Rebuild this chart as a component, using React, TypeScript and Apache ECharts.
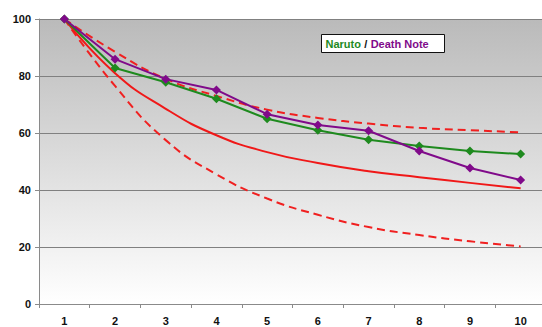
import React, { useEffect, useRef } from "react";
import * as echarts from "echarts";

const categories = ["1", "2", "3", "4", "5", "6", "7", "8", "9", "10"];
const naruto = [100, 82.8, 77.8, 72, 65, 61, 57.6, 55.4, 53.7, 52.6];
const deathNote = [100, 85.9, 78.9, 75.1, 66.6, 62.8, 60.8, 53.7, 47.7, 43.5];
const redMid = [100, 81, 68.5, 59.2, 53.3, 49.5, 46.6, 44.5, 42.5, 40.6];
const redUpper = [100, 88.5, 79, 73, 68.2, 65.3, 63.3, 61.8, 61, 60.2];
const redLower = [100, 76.5, 57.5, 45.5, 37, 31.3, 27, 24.2, 22, 20.2];
const yTicks = [0, 20, 40, 60, 80, 100];

export default function App() {
  const ref = useRef<HTMLDivElement>(null);
  useEffect(() => {
    const chart = echarts.init(ref.current!, undefined, { renderer: "svg" });
    const labelFont = { fontFamily: "Liberation Sans, Arial, sans-serif", fontWeight: "bold" as const, fontSize: 11, color: "#111" };
    chart.setOption({
      animation: false,
      backgroundColor: "#ffffff",
      grid: {
        left: 39,
        top: 19,
        right: -4,
        bottom: 23,
        show: true,
        borderWidth: 0,
        containLabel: false,
        outerBoundsMode: "none",
        backgroundColor: new echarts.graphic.LinearGradient(0, 0, 0, 1, [
          { offset: 0, color: "#bababa" },
          { offset: 1, color: "#ffffff" },
        ]),
      },
      xAxis: {
        type: "category",
        data: categories,
        boundaryGap: true,
        axisLine: { lineStyle: { color: "#8a8a8a", width: 1 } },
        axisTick: { show: true, length: 4, lineStyle: { color: "#8a8a8a" } },
        axisLabel: { ...labelFont, margin: 11 },
        splitLine: { show: false },
      },
      yAxis: {
        type: "value",
        min: yTicks[0],
        max: yTicks[yTicks.length - 1],
        interval: 20,
        axisLine: { show: true, lineStyle: { color: "#8a8a8a", width: 1 } },
        axisTick: { show: true, length: 4, lineStyle: { color: "#8a8a8a" } },
        axisLabel: { ...labelFont, margin: 8 },
        splitLine: { show: true, lineStyle: { color: "#808080", width: 1 } },
      },
      series: [
        {
          name: "lower",
          type: "line",
          data: redLower,
          smooth: 0.5,
          symbol: "none",
          lineStyle: { color: "#f02020", width: 2, type: [8, 5] },
        },
        {
          name: "upper",
          type: "line",
          data: redUpper,
          smooth: 0.5,
          symbol: "none",
          lineStyle: { color: "#f02020", width: 2, type: [8, 5] },
        },
        {
          name: "mid",
          type: "line",
          data: redMid,
          smooth: 0.5,
          symbol: "none",
          lineStyle: { color: "#f01818", width: 2 },
        },
        {
          name: "Naruto",
          type: "line",
          data: naruto,
          symbol: "diamond",
          symbolSize: 9,
          itemStyle: { color: "#1e8a1e" },
          lineStyle: { color: "#1e8a1e", width: 2 },
        },
        {
          name: "Death Note",
          type: "line",
          data: deathNote,
          symbol: "diamond",
          symbolSize: 9,
          itemStyle: { color: "#800a8a" },
          lineStyle: { color: "#800a8a", width: 2 },
        },
      ],
      graphic: [
        {
          type: "group",
          left: 321,
          top: 34,
          children: [
            {
              type: "rect",
              shape: { x: 0, y: 0, width: 123, height: 18 },
              style: { fill: "#ffffff", stroke: "#111", lineWidth: 1 },
            },
            {
              type: "text",
              x: 4,
              y: 3,
              style: {
                text: "{g|Naruto} {k|/} {p|Death Note}",
                rich: {
                  g: { fill: "#1e8a1e", fontWeight: "bold", fontSize: 11, fontFamily: "Liberation Sans, Arial, sans-serif" },
                  k: { fill: "#111", fontWeight: "bold", fontSize: 11, fontFamily: "Liberation Sans, Arial, sans-serif" },
                  p: { fill: "#800a8a", fontWeight: "bold", fontSize: 11, fontFamily: "Liberation Sans, Arial, sans-serif" },
                },
              },
            },
          ],
        },
      ],
    });
    return () => chart.dispose();
  }, []);
  return <div ref={ref} style={{ width: 542, height: 327, position: "absolute", left: 0, top: 0 }} />;
}
